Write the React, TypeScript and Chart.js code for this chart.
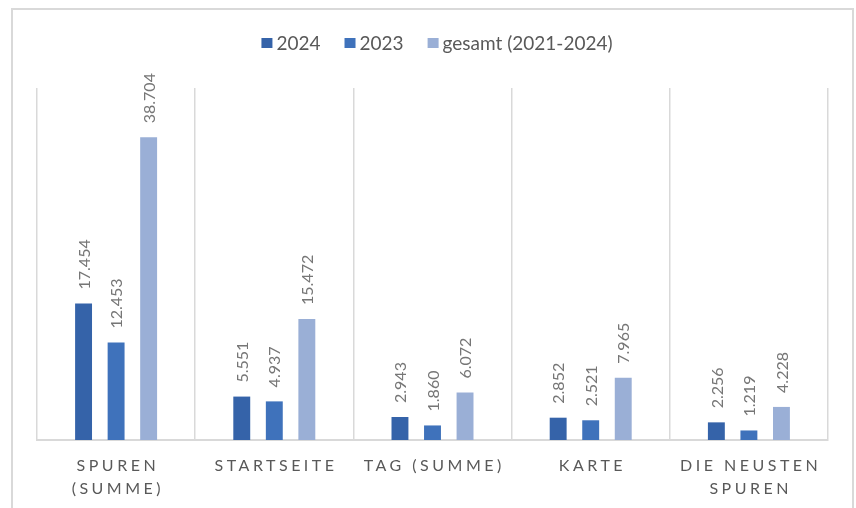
import React, { useEffect, useRef } from "react";
import { Chart, registerables } from "chart.js";

Chart.register(...registerables);

const categories: string[][] = [
  ["SPUREN", "(SUMME)"],
  ["STARTSEITE"],
  ["TAG (SUMME)"],
  ["KARTE"],
  ["DIE NEUSTEN", "SPUREN"],
];
const seriesNames = ["2024", "2023", "gesamt (2021-2024)"];
const values2024 = [17454, 5551, 2943, 2852, 2256];
const values2023 = [12453, 4937, 1860, 2521, 1219];
const valuesTotal = [38704, 15472, 6072, 7965, 4228];
const seriesColors = ["#3563A9", "#3F72BB", "#9AAFD6"];
const yMax = 45000;

const FONT = "Lato, 'Noto Sans', sans-serif";

function fmt(v: number): string {
  return String(v).replace(/\B(?=(\d{3})+(?!\d))/g, ".");
}

const dataLabelPlugin = {
  id: "dataLabels",
  afterDatasetsDraw(chart: any) {
    const ctx = chart.ctx;
    ctx.save();
    ctx.font = `16px ${FONT}`;
    ctx.fillStyle = "#767676";
    ctx.textAlign = "left";
    ctx.textBaseline = "middle";
    chart.data.datasets.forEach((ds: any, i: number) => {
      const meta = chart.getDatasetMeta(i);
      meta.data.forEach((bar: any, j: number) => {
        ctx.save();
        ctx.translate(bar.x, bar.y - 14);
        ctx.rotate(-Math.PI / 2);
        ctx.fillText(fmt(ds.data[j]), 0, 1);
        ctx.restore();
      });
    });
    ctx.restore();
  },
};

const categoryLabelPlugin = {
  id: "categoryLabels",
  afterDraw(chart: any) {
    const ctx = chart.ctx;
    const xs = chart.scales.x;
    const bottom = chart.chartArea.bottom;
    ctx.save();
    ctx.font = `16px ${FONT}`;
    ctx.fillStyle = "#595959";
    ctx.textAlign = "center";
    ctx.textBaseline = "middle";
    const spacing = 3.5;
    (ctx as any).letterSpacing = `${spacing}px`;
    categories.forEach((lines, i) => {
      const x = xs.getPixelForValue(i);
      lines.forEach((line, k) => {
        ctx.fillText(line, x + spacing / 2, bottom + 26 + k * 23);
      });
    });
    ctx.restore();
  },
};

const legendPlugin = {
  id: "customLegend",
  afterDraw(chart: any) {
    const ctx = chart.ctx;
    ctx.save();
    ctx.font = `19px ${FONT}`;
    ctx.textBaseline = "middle";
    ctx.textAlign = "left";
    const boxW = 11;
    const boxH = 10;
    const gapBoxText = 4;
    const gapItems = 24;
    const widths = seriesNames.map((n) => ctx.measureText(n).width);
    const total =
      widths.reduce((a, b) => a + b, 0) +
      seriesNames.length * (boxW + gapBoxText) +
      (seriesNames.length - 1) * gapItems;
    let x = 437 - total / 2;
    const cy = 43;
    seriesNames.forEach((n, i) => {
      ctx.fillStyle = seriesColors[i];
      ctx.fillRect(x, cy - boxH / 2, boxW, boxH);
      x += boxW + gapBoxText;
      ctx.fillStyle = "#595959";
      ctx.fillText(n, x, cy + 1);
      x += widths[i] + gapItems;
    });
    ctx.restore();
  },
};

export default function App() {
  const canvasRef = useRef<HTMLCanvasElement | null>(null);

  useEffect(() => {
    if (!canvasRef.current) return;
    const chart = new Chart(canvasRef.current, {
      type: "bar",
      data: {
        labels: categories.map((c) => c.join(" ")),
        datasets: [
          { label: seriesNames[0], data: values2024, backgroundColor: seriesColors[0] },
          { label: seriesNames[1], data: values2023, backgroundColor: seriesColors[1] },
          { label: seriesNames[2], data: valuesTotal, backgroundColor: seriesColors[2] },
        ],
      },
      options: {
        responsive: false,
        animation: false,
        layout: { padding: { left: 37, right: 28, top: 88, bottom: 68 } },
        datasets: {
          bar: { categoryPercentage: 0.617, barPercentage: 0.52 },
        },
        plugins: {
          legend: { display: false },
          tooltip: { enabled: false },
        },
        scales: {
          x: {
            offset: true,
            ticks: { display: false },
            grid: { display: true, offset: true, color: "#D9D9D9", lineWidth: 1.5, drawTicks: false },
            border: { display: true, color: "#D9D9D9", width: 2 },
          },
          y: {
            display: false,
            min: 0,
            max: yMax,
          },
        },
      },
      plugins: [dataLabelPlugin, categoryLabelPlugin, legendPlugin],
    });
    return () => chart.destroy();
  }, []);

  return (
    <div style={{ position: "fixed", left: 0, top: 0, width: 856, height: 508, background: "#fff", overflow: "hidden" }}>
      <div
        style={{
          position: "absolute",
          left: 11,
          top: 8,
          width: 843,
          height: 600,
          boxSizing: "border-box",
          border: "2px solid #D9D9D9",
        }}
      />
      <canvas ref={canvasRef} width={856} height={508} style={{ position: "absolute", left: 0, top: 0 }} />
    </div>
  );
}
